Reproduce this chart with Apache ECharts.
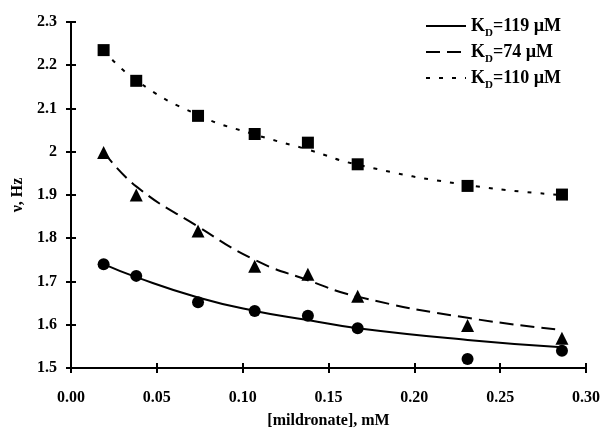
<!DOCTYPE html>
<html>
<head>
<meta charset="utf-8">
<script src="https://cdn.jsdelivr.net/npm/echarts@6/dist/echarts.min.js"></script>
<style>
  html, body { margin: 0; padding: 0; background: #fff; }
  #chart { width: 603px; height: 434px; }
</style>
</head>
<body>
<div id="chart"></div>
<script>
// 测量数据：浓度 (mM)
const conc = [0.019, 0.038, 0.074, 0.107, 0.138, 0.167, 0.231, 0.286];

// 实验点
const squares   = [2.235, 2.164, 2.083, 2.041, 2.021, 1.971, 1.921, 1.901];
const triangles = [1.998, 1.900, 1.817, 1.735, 1.717, 1.666, 1.598, 1.569];
const circles   = [1.740, 1.713, 1.652, 1.632, 1.621, 1.592, 1.521, 1.540];

// 拟合曲线
const fitSolid  = [1.740, 1.710, 1.663, 1.632, 1.611, 1.592, 1.565, 1.548];
const fitDashed = [2.000, 1.920, 1.827, 1.750, 1.703, 1.665, 1.616, 1.588];
const fitDotted = [2.235, 2.165, 2.085, 2.040, 2.005, 1.970, 1.923, 1.900];

const legendNames = ['K_D=119 µM', 'K_D=74 µM', 'K_D=110 µM'];

const pairs = (ys) => conc.map((x, i) => [x, ys[i]]);

const chart = echarts.init(document.getElementById('chart'));

const font = 'Liberation Serif';
const lineSeries = (name, ys, type) => ({
    name: name,
    type: 'line',
    smooth: true,
    symbol: 'none',
    data: pairs(ys),
    lineStyle: { color: '#000', width: 2, type: type },
    itemStyle: { color: '#000' },
    z: 2
});
const pointSeries = (ys, symbol, size) => ({
    type: 'scatter',
    symbol: symbol,
    symbolSize: size,
    data: pairs(ys),
    itemStyle: { color: '#000', opacity: 1 },
    z: 3
});

chart.setOption({
    animation: false,
    grid: { left: 71, right: 17, top: 22, bottom: 66 },
    legend: {
        orient: 'vertical',
        left: 420,
        top: 12,
        itemWidth: 40,
        itemHeight: 14,
        itemGap: 4,
        data: legendNames,
        itemStyle: { opacity: 0 },
        formatter: (n) => '{b|K}{s|D}{b|' + n.slice(3) + '}',
        textStyle: {
            fontFamily: font,
            rich: {
                b: { fontFamily: font, fontWeight: 'bold', fontSize: 18, color: '#000', lineHeight: 20 },
                s: { fontFamily: font, fontWeight: 'bold', fontSize: 11, color: '#000', lineHeight: 20, verticalAlign: 'bottom', padding: [0, 0, -3, 0] }
            }
        }
    },
    xAxis: [{
        type: 'value',
        min: 0, max: 0.3, interval: 0.05,
        name: '[mildronate], mM',
        nameLocation: 'middle',
        nameGap: 45,
        nameTextStyle: { fontFamily: font, fontWeight: 'bold', fontSize: 16, color: '#000' },
        axisLine: { show: true, onZero: false, lineStyle: { color: '#000', width: 2 } },
        axisTick: { show: true, length: 5, lineStyle: { color: '#000', width: 2 } },
        axisLabel: {
            margin: 22, fontFamily: font, fontWeight: 'bold', fontSize: 16, color: '#000',
            formatter: (v) => v.toFixed(2)
        },
        splitLine: { show: false }
    }, {
        type: 'value', position: 'bottom', gridIndex: 0,
        min: 0, max: 0.3, interval: 0.05,
        axisLine: { show: false },
        axisTick: { show: true, inside: true, length: 5, lineStyle: { color: '#000', width: 2 } },
        axisLabel: { show: false },
        splitLine: { show: false }
    }],
    yAxis: [{
        type: 'value',
        min: 1.5, max: 2.3, interval: 0.1,
        name: 'ν, Hz',
        nameLocation: 'middle',
        nameGap: 31,
        nameTextStyle: { fontFamily: font, fontWeight: 'bold', fontSize: 16, color: '#000' },
        axisLine: { show: true, onZero: false, lineStyle: { color: '#000', width: 2 } },
        axisTick: { show: true, length: 5, lineStyle: { color: '#000', width: 2 } },
        axisLabel: {
            margin: 14, fontFamily: font, fontWeight: 'bold', fontSize: 16, color: '#000',
            formatter: (v) => String(Math.round(v * 10) / 10)
        },
        splitLine: { show: false }
    }, {
        type: 'value', position: 'left',
        min: 1.5, max: 2.3, interval: 0.1,
        axisLine: { show: false },
        axisTick: { show: true, inside: true, length: 5, lineStyle: { color: '#000', width: 2 } },
        axisLabel: { show: false },
        splitLine: { show: false }
    }],
    series: [
        lineSeries(legendNames[0], fitSolid, 'solid'),
        lineSeries(legendNames[1], fitDashed, [14, 7]),
        lineSeries(legendNames[2], fitDotted, [4, 9]),
        pointSeries(squares, 'rect', 12),
        pointSeries(triangles, 'triangle', 13),
        pointSeries(circles, 'circle', 12)
    ]
});
</script>
</body>
</html>
